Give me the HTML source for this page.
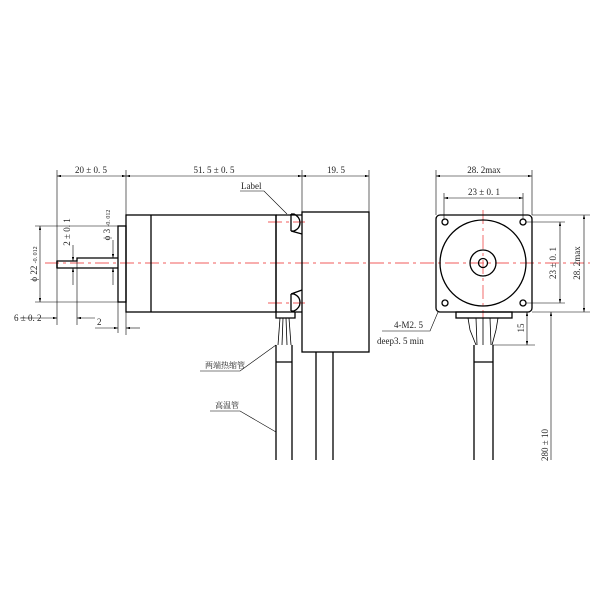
<!DOCTYPE html>
<html><head><meta charset="utf-8"><style>body{margin:0;background:#fff}svg{display:block}</style></head><body>
<svg width="600" height="600" viewBox="0 0 600 600" xmlns="http://www.w3.org/2000/svg" font-family="Liberation Serif, Noto Serif CJK SC, serif" font-size="9">
<defs><marker id="a" viewBox="0 0 10 6" refX="10" refY="3" markerWidth="7" markerHeight="4" orient="auto-start-reverse"><path d="M0,0L10,3L0,6z" fill="#000"/></marker></defs>
<g stroke="#e33" stroke-width="0.9" stroke-dasharray="14,4,3,4" fill="none" opacity="0.8">
<line x1="45" y1="263" x2="590" y2="263"/>
<line x1="483" y1="210" x2="483" y2="318"/>
<line x1="268" y1="222" x2="305" y2="222"/><line x1="268" y1="303" x2="305" y2="303"/>
</g>
<g stroke="#000" fill="none" stroke-width="1.3">
<rect x="126" y="215" width="150" height="97"/>
<line x1="151" y1="215" x2="151" y2="312"/>
<rect x="118" y="226" width="8" height="76"/>
<path d="M118,258H77V261H57V268H118"/>
<line x1="57" y1="261" x2="57" y2="268"/>
<path d="M276,215H302M276,312H302"/>
<path d="M276,215V318H295V312"/>
<rect x="302" y="212" width="67" height="140"/>
<path d="M291,214V231M291,214H294q6,3 6,8.5q0,6 -6,8.5H291M291,231L302,234"/>
<path d="M291,294V311M291,311H294q6,-3 6,-8.5q0,-6 -6,-8.5H291M291,294L302,290"/>
<path d="M276,345V460M292,345V460M276,362H292M316,352V460M333,352V460"/>
<rect x="436" y="215" width="96" height="97" rx="4"/>
<circle cx="483" cy="263" r="43"/><circle cx="483" cy="263" r="13"/><circle cx="483" cy="263" r="4.5"/>
<circle cx="445" cy="222" r="3"/><circle cx="523" cy="222" r="3"/><circle cx="445" cy="303" r="3"/><circle cx="523" cy="303" r="3"/>
<rect x="456" y="312" width="56" height="6"/>
<path d="M474,345V460M493,345V460M474,362H493"/>
</g>
<g stroke="#000" stroke-width="0.8" fill="none">
<path d="M280,318L278,345M283,318L282,345M286,318L287,345M289,318L291,345"/>
<path d="M468,318L470,330L476,345M476,318L477,345M483,318V345M490,318L491,345M498,318L496,330L492,345"/>
</g>
<g stroke="#000" stroke-width="0.6" fill="none">
<line x1="57" y1="170" x2="57" y2="325"/><line x1="126" y1="170" x2="126" y2="335"/><line x1="302" y1="170" x2="302" y2="212"/><line x1="369" y1="170" x2="369" y2="212"/>
<line x1="57" y1="176" x2="126" y2="176" marker-start="url(#a)" marker-end="url(#a)"/>
<line x1="126" y1="176" x2="302" y2="176" marker-start="url(#a)" marker-end="url(#a)"/>
<line x1="302" y1="176" x2="369" y2="176" marker-start="url(#a)" marker-end="url(#a)"/>
<line x1="35" y1="226" x2="118" y2="226"/><line x1="35" y1="302" x2="118" y2="302"/>
<line x1="40" y1="226" x2="40" y2="302" marker-start="url(#a)" marker-end="url(#a)"/>
<line x1="73" y1="245" x2="73" y2="261" marker-end="url(#a)"/><line x1="73" y1="285" x2="73" y2="268" marker-end="url(#a)"/>
<line x1="77" y1="258" x2="77" y2="325"/>
<line x1="113" y1="240" x2="113" y2="258" marker-end="url(#a)"/><line x1="113" y1="285" x2="113" y2="268" marker-end="url(#a)"/>
<line x1="20" y1="318" x2="57" y2="318" marker-end="url(#a)"/><line x1="95" y1="318" x2="77" y2="318" marker-end="url(#a)"/>
<line x1="95" y1="328" x2="118" y2="328" marker-end="url(#a)"/><line x1="140" y1="328" x2="126" y2="328" marker-end="url(#a)"/>
<line x1="118" y1="302" x2="118" y2="333"/>
<path d="M240,191H264L287,214"/>
<path d="M200,371H240L276,345"/><path d="M210,411H240L276,432"/>
<line x1="436" y1="170" x2="436" y2="215"/><line x1="532" y1="170" x2="532" y2="215"/>
<line x1="436" y1="176" x2="532" y2="176" marker-start="url(#a)" marker-end="url(#a)"/>
<line x1="444" y1="193" x2="444" y2="220"/><line x1="523" y1="193" x2="523" y2="220"/>
<line x1="444" y1="198" x2="523" y2="198" marker-start="url(#a)" marker-end="url(#a)"/>
<line x1="526" y1="222" x2="565" y2="222"/><line x1="526" y1="303" x2="565" y2="303"/>
<line x1="560" y1="222" x2="560" y2="303" marker-start="url(#a)" marker-end="url(#a)"/>
<line x1="532" y1="215" x2="590" y2="215"/><line x1="532" y1="312" x2="590" y2="312"/>
<line x1="584" y1="215" x2="584" y2="312" marker-start="url(#a)" marker-end="url(#a)"/>
<line x1="493" y1="345" x2="535" y2="345"/>
<line x1="527" y1="312" x2="527" y2="345" marker-start="url(#a)" marker-end="url(#a)"/>
<line x1="551" y1="312" x2="551" y2="460" marker-start="url(#a)"/>
<path d="M382,331H430L438,312"/>
</g>
<g fill="#222">
<text x="91" y="173" text-anchor="middle">20 ± 0. 5</text>
<text x="214" y="173" text-anchor="middle">51. 5 ± 0. 5</text>
<text x="336" y="173" text-anchor="middle">19. 5</text>
<text x="241" y="189">Label</text>
<text x="484" y="173" text-anchor="middle">28. 2max</text>
<text x="484" y="195" text-anchor="middle">23 ± 0. 1</text>
<text x="394" y="328">4-M2. 5</text>
<text x="377" y="344">deep3. 5 min</text>
<text x="14" y="321">6 ± 0. 2</text>
<text x="97" y="325">2</text>
<text x="205" y="368" font-size="8">两端热缩管</text>
<text x="215" y="408" font-size="8">高温管</text>
<text transform="translate(556,263) rotate(-90)" text-anchor="middle">23 ± 0. 1</text>
<text transform="translate(580,263) rotate(-90)" text-anchor="middle">28. 2max</text>
<text transform="translate(524,328) rotate(-90)" text-anchor="middle">15</text>
<text transform="translate(548,445) rotate(-90)" text-anchor="middle">280 ± 10</text>
<text transform="translate(37,264) rotate(-90)" text-anchor="middle">ϕ 22 <tspan font-size="6">-0. 012</tspan></text>
<text transform="translate(70,232) rotate(-90)" text-anchor="middle">2 ± 0. 1</text>
<text transform="translate(110,225) rotate(-90)" text-anchor="middle">ϕ 3 <tspan font-size="6">-0. 012</tspan></text>
</g>
</svg>
</body></html>
